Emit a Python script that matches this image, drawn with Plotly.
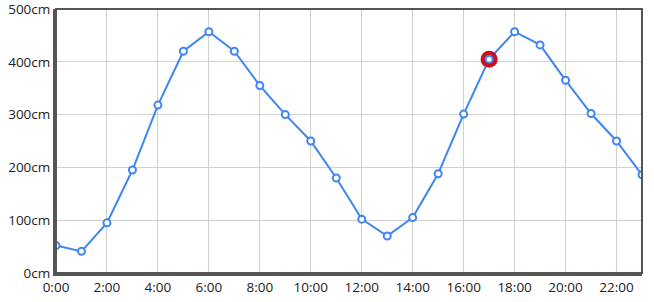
import plotly.graph_objects as go

hours = list(range(24))
hour_labels = [f"{h}:00" for h in hours]
tide_cm = [52, 41, 95, 195, 318, 420, 457, 420, 355, 300, 250, 180,
           102, 70, 105, 188, 301, 405, 457, 432, 365, 302, 250, 186]
highlight_hour = 17
y_ticks = [0, 100, 200, 300, 400, 500]
y_tick_labels = [f"{v}cm" for v in y_ticks]

blue = "#3f86f2"
fig = go.Figure()
fig.add_trace(go.Scatter(
    x=hours, y=tide_cm, mode="lines+markers",
    line=dict(color=blue, width=2),
    marker=dict(size=7, color="white", line=dict(color=blue, width=2)),
    hoverinfo="x+y", showlegend=False))
fig.add_trace(go.Scatter(
    x=[highlight_hour], y=[tide_cm[highlight_hour]], mode="markers",
    marker=dict(size=17, color="#c8101e", line=dict(width=0)),
    showlegend=False))
fig.add_trace(go.Scatter(
    x=[highlight_hour], y=[tide_cm[highlight_hour]], mode="markers",
    marker=dict(size=7, color="white", line=dict(color=blue, width=2)),
    showlegend=False))

axis_font = dict(family="Open Sans, sans-serif", size=13.5, color="#222")
fig.update_layout(
    width=654, height=302,
    margin=dict(l=56, r=12, t=9, b=29, autoexpand=False),
    paper_bgcolor="white", plot_bgcolor="white",
    xaxis=dict(range=[0, 23], tickvals=hours[::2], ticktext=hour_labels[::2],
               showgrid=True, gridcolor="#d0d0d0", gridwidth=1,
               showline=True, linecolor="#555", linewidth=3, mirror=False,
               ticks="", tickfont=axis_font, zeroline=False, fixedrange=True,
               ticklabeloverflow="allow", automargin=False),
    yaxis=dict(range=[0, 500], tickvals=y_ticks, ticktext=y_tick_labels,
               showgrid=True, gridcolor="#d0d0d0", gridwidth=1,
               showline=True, linecolor="#555", linewidth=3, mirror=False,
               ticks="", tickfont=axis_font, zeroline=False, fixedrange=True,
               ticklabeloverflow="allow", automargin=False),
    shapes=[dict(type="rect", xref="paper", yref="paper", x0=0, x1=1, y0=0, y1=1,
                 line=dict(color="#555", width=2), layer="above")],
)
fig.write_html("out.html")
